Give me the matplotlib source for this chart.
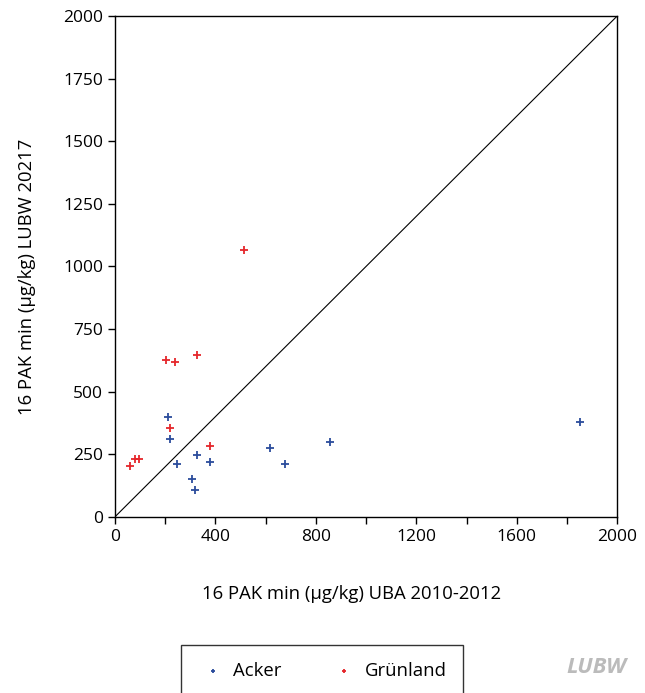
import matplotlib.pyplot as plt
from matplotlib.ticker import MultipleLocator

plt.rcParams['font.family'] = ['Open Sans', 'DejaVu Sans']

# Acker
acker_x = [212, 221, 248, 326, 309, 318, 379, 618, 679, 855, 1852]
acker_y = [398, 310, 212, 247, 150, 106, 221, 274, 212, 301, 378]

# Grünland
gruen_x = [62, 80, 98, 203, 239, 326, 221, 379, 513]
gruen_y = [202, 230, 230, 628, 619, 645, 354, 282, 1067]

blue = '#2b4c9c'
red = '#e5262b'

fig = plt.figure(figsize=(6.45, 6.93), dpi=100)
ax = fig.add_axes([0.178, 0.254, 0.779, 0.723])

ax.plot([0, 2000], [0, 2000], color='black', lw=0.8)
ax.scatter(acker_x, acker_y, marker='+', s=30, color=blue, linewidths=1.3, label='Acker')
ax.scatter(gruen_x, gruen_y, marker='+', s=30, color=red, linewidths=1.3, label='Grünland')

ax.set_xlim(0, 2000)
ax.set_ylim(0, 2000)
ax.xaxis.set_major_locator(MultipleLocator(400))
ax.xaxis.set_minor_locator(MultipleLocator(200))
ax.yaxis.set_major_locator(MultipleLocator(250))
ax.tick_params(which='both', direction='out', length=5, width=1, labelsize=12.5)
for s in ax.spines.values():
    s.set_linewidth(1)

fig.text(0.545, 0.143, '16 PAK min (µg/kg) UBA 2010-2012', ha='center', va='center', fontsize=13.3)
fig.text(0.042, 0.60, '16 PAK min (µg/kg) LUBW 20217', ha='center', va='center',
         rotation=90, fontsize=13.3)

leg = fig.legend(loc='upper left', bbox_to_anchor=(0.281, 0.069), borderaxespad=0, ncol=2,
                 frameon=True, fancybox=False, edgecolor='black', fontsize=13.3, borderpad=0.9,
                 handlelength=1.6, handletextpad=0.3, columnspacing=2.6, markerscale=0.6)
leg.get_frame().set_linewidth(1)

fig.text(0.925, 0.037, 'LUBW', ha='center', va='center', fontsize=16, color='#bbbbbb',
         fontweight='bold', style='italic')

plt.savefig('out.png', dpi=100)
